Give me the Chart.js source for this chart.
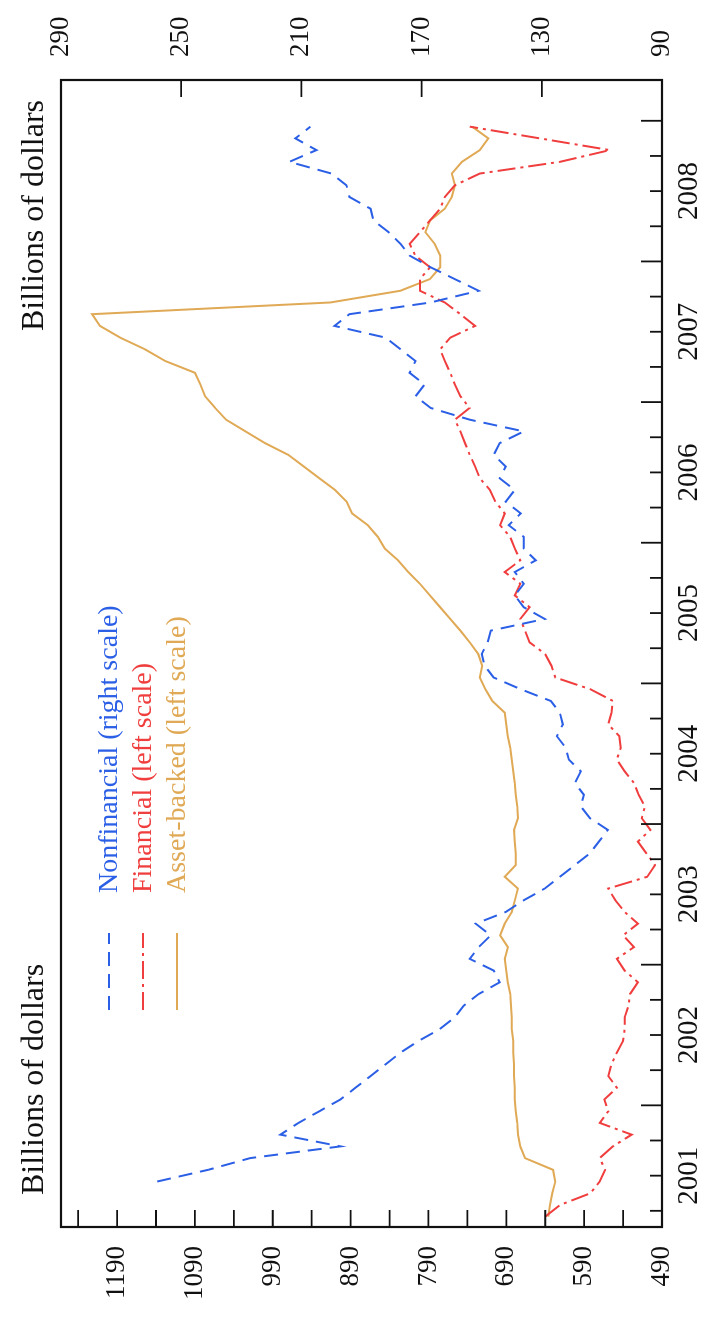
<!DOCTYPE html>
<html>
<head>
<meta charset="utf-8">
<script src="https://cdn.jsdelivr.net/npm/chart.js@4"></script>
<style>
    html, body { margin: 0; padding: 0; background: #fff; overflow: hidden; }
    /* the chart is drawn landscape, then turned a quarter turn to the left */
    #wrap {
        position: absolute; left: 0; top: 0;
        width: 1324px; height: 708px;
        transform-origin: 0 0;
        transform: translateY(1324px) rotate(-90deg);
    }
</style>
</head>
<body>
<div id="wrap"><canvas id="cpChart" width="1324" height="708"></canvas></div>
<script>
const months = [
    "2001-03", "2001-04", "2001-05", "2001-06", "2001-07", "2001-08", "2001-09", "2001-10", "2001-11", "2001-12",
    "2002-01", "2002-02", "2002-03", "2002-04", "2002-05", "2002-06", "2002-07", "2002-08", "2002-09", "2002-10", "2002-11", "2002-12",
    "2003-01", "2003-02", "2003-03", "2003-04", "2003-05", "2003-06", "2003-07", "2003-08", "2003-09", "2003-10", "2003-11", "2003-12",
    "2004-01", "2004-02", "2004-03", "2004-04", "2004-05", "2004-06", "2004-07", "2004-08", "2004-09", "2004-10", "2004-11", "2004-12",
    "2005-01", "2005-02", "2005-03", "2005-04", "2005-05", "2005-06", "2005-07", "2005-08", "2005-09", "2005-10", "2005-11", "2005-12",
    "2006-01", "2006-02", "2006-03", "2006-04", "2006-05", "2006-06", "2006-07", "2006-08", "2006-09", "2006-10", "2006-11", "2006-12",
    "2007-01", "2007-02", "2007-03", "2007-04", "2007-05", "2007-06", "2007-07", "2007-08", "2007-09", "2007-10", "2007-11", "2007-12",
    "2008-01", "2008-02", "2008-03", "2008-04", "2008-05", "2008-06", "2008-07", "2008-08", "2008-09", "2008-10", "2008-11", "2008-12"
];

// Billions of dollars, right scale (series starts in June 2001)
const nonfinancial = [
    null, null, null, 258, 241, 227, 197, 217, 211, 204,
    197, 192, 187, 182, 177, 171, 164, 159, 156, 151, 144, 146,
    154, 151, 147, 152, 142, 136, 129, 124, 119, 114, 111, 108,
    114, 117, 116, 119, 117, 121, 122, 125, 123, 124, 127, 137,
    146, 149, 150, 148, 147, 129, 136, 139, 136, 139, 132, 136,
    136, 141, 137, 142, 139, 144, 142, 146, 144, 136, 154, 167,
    172, 169, 174, 172, 177, 182, 199, 194, 167, 151, 159, 167,
    174, 177, 181, 186, 187, 194, 195, 200, 214, 205, 212, 207
];

// Billions of dollars, left scale
const financial = [
    640, 621, 582, 570, 563, 570, 553, 529, 570, 559,
    564, 548, 559, 555, 548, 540, 538, 538, 533, 531, 521, 538,
    548, 526, 540, 521, 538, 550, 559, 509, 499, 510, 521, 505,
    516, 512, 520, 526, 538, 548, 543, 545, 559, 555, 553, 582,
    627, 632, 640, 660, 666, 672, 660, 679, 672, 692, 672, 679,
    685, 698, 692, 704, 711, 724, 730, 737, 743, 749, 756, 737,
    749, 756, 762, 769, 775, 762, 730, 749, 769, 801, 801, 788,
    807, 814, 801, 788, 775, 769, 756, 724, 621, 557, 647, 737
];

// Billions of dollars, left scale
const assetBacked = [
    636, 634, 631, 627, 630, 666, 672, 675, 676, 678,
    679, 679, 680, 680, 681, 681, 683, 683, 684, 685, 688, 690,
    692, 688, 698, 692, 683, 679, 675, 692, 678, 678, 679, 680,
    675, 676, 678, 679, 681, 683, 685, 688, 690, 692, 708, 717,
    724, 721, 726, 737, 749, 762, 775, 788, 801, 816, 829, 846,
    855, 868, 888, 895, 910, 930, 950, 970, 1000, 1025, 1050, 1064,
    1077, 1083, 1090, 1128, 1154, 1186, 1212, 1222, 916, 826, 788, 775,
    775, 782, 794, 788, 769, 760, 756, 760, 747, 724, 713, 734
];

const leftTicks = [490, 540, 590, 640, 690, 740, 790, 840, 890, 940, 990, 1040, 1090, 1140, 1190, 1240];
const rightTicks = [90, 130, 170, 210, 250, 290];
const years = [2001, 2002, 2003, 2004, 2005, 2006, 2007, 2008];
const axisTitle = "Billions of dollars";

const BLUE = "#2b5fe6";
const RED = "#f03d3d";
const GOLD = "#e0a955";
const FONT = "'Liberation Serif', 'Times New Roman', serif";

function monthToYear(m) {
    return Number(m.slice(0, 4)) + (Number(m.slice(5, 7)) - 0.5) / 12;
}

function toPoints(values) {
    return values.map((v, i) => ({ x: monthToYear(months[i]), y: v }));
}

// quarter ticks on the date axis; the year label sits on the mid-year tick
const dateTicks = [];
years.forEach(y => { [0.25, 0.5, 0.75, 1].forEach(q => dateTicks.push(y + q)); });

const seriesStyles = [
    { label: "Nonfinancial (right scale)", color: BLUE, dash: [14, 8] },
    { label: "Financial (left scale)", color: RED, dash: [18, 5, 3, 5] },
    { label: "Asset-backed (left scale)", color: GOLD, dash: [] }
];

const decorPlugin = {
    id: "decor",
    afterDraw(chart) {
        const { ctx, chartArea: a, scales } = chart;
        ctx.save();
        ctx.strokeStyle = "#111";

        ctx.lineWidth = 1.8;
        ctx.beginPath();
        scales.yLeft.ticks.forEach(t => {
            const y = scales.yLeft.getPixelForValue(t.value);
            ctx.moveTo(a.left, y);
            ctx.lineTo(a.left + 17, y);
        });
        scales.yRight.ticks.forEach(t => {
            const y = scales.yRight.getPixelForValue(t.value);
            ctx.moveTo(a.right, y);
            ctx.lineTo(a.right - 17, y);
        });
        scales.x.ticks.forEach(t => {
            const x = scales.x.getPixelForValue(t.value);
            const major = Math.abs(t.value - Math.round(t.value)) < 1e-6;
            ctx.moveTo(x, a.bottom);
            ctx.lineTo(x, a.bottom - (major ? 21 : 12));
        });
        ctx.stroke();

        ctx.lineWidth = 2.2;
        ctx.strokeRect(a.left, a.top, a.right - a.left, a.bottom - a.top);

        ctx.fillStyle = "#111";
        ctx.font = "32px " + FONT;
        ctx.textBaseline = "alphabetic";
        ctx.textAlign = "left";
        ctx.fillText(axisTitle, 129, 43);
        ctx.textAlign = "right";
        ctx.fillText(axisTitle, 1224, 43);

        // legend
        const rowsY = [109, 143, 177];
        ctx.font = "28px " + FONT;
        ctx.textAlign = "left";
        ctx.textBaseline = "middle";
        seriesStyles.forEach((s, i) => {
            ctx.strokeStyle = s.color;
            ctx.lineWidth = 2;
            ctx.setLineDash(s.dash);
            ctx.beginPath();
            ctx.moveTo(314, rowsY[i]);
            ctx.lineTo(391, rowsY[i]);
            ctx.stroke();
            ctx.setLineDash([]);
            ctx.fillStyle = s.color;
            ctx.fillText(s.label, 431, rowsY[i] + 1);
        });
        ctx.restore();
    }
};

new Chart(document.getElementById("cpChart"), {
    type: "line",
    data: {
        datasets: [
            {
                label: seriesStyles[0].label,
                data: toPoints(nonfinancial),
                yAxisID: "yRight",
                borderColor: BLUE,
                borderWidth: 2,
                borderDash: seriesStyles[0].dash,
                pointRadius: 0,
                tension: 0
            },
            {
                label: seriesStyles[1].label,
                data: toPoints(financial),
                yAxisID: "yLeft",
                borderColor: RED,
                borderWidth: 2,
                borderDash: seriesStyles[1].dash,
                pointRadius: 0,
                tension: 0
            },
            {
                label: seriesStyles[2].label,
                data: toPoints(assetBacked),
                yAxisID: "yLeft",
                borderColor: GOLD,
                borderWidth: 2,
                pointRadius: 0,
                tension: 0
            }
        ]
    },
    options: {
        responsive: false,
        devicePixelRatio: 1,
        animation: false,
        layout: { padding: { top: 61 } },
        plugins: {
            legend: { display: false },
            tooltip: { enabled: false }
        },
        scales: {
            x: {
                type: "linear",
                position: "bottom",
                min: 2001.135,
                max: 2009.29,
                grid: { display: false, drawTicks: false },
                border: { display: false },
                afterBuildTicks: s => { s.ticks = dateTicks.map(v => ({ value: v })); },
                afterFit: s => { s.height = 46; },
                ticks: {
                    autoSkip: false,
                    maxRotation: 0,
                    padding: 10,
                    color: "#111",
                    font: { family: FONT, size: 29 },
                    callback: v => Math.abs(v - Math.floor(v) - 0.5) < 1e-6 ? String(Math.floor(v)) : ""
                }
            },
            yLeft: {
                type: "linear",
                position: "left",
                min: 490,
                max: 1262,
                grid: { display: false, drawTicks: false },
                border: { display: false },
                afterBuildTicks: s => { s.ticks = leftTicks.map(v => ({ value: v })); },
                afterFit: s => { s.width = 97; },
                ticks: {
                    autoSkip: false,
                    padding: 19,
                    color: "#111",
                    font: { family: FONT, size: 27 },
                    callback: v => (v - 490) % 100 === 0 ? String(v) : ""
                }
            },
            yRight: {
                type: "linear",
                position: "right",
                min: 90,
                max: 290,
                grid: { display: false, drawTicks: false },
                border: { display: false },
                afterBuildTicks: s => { s.ticks = rightTicks.map(v => ({ value: v })); },
                afterFit: s => { s.width = 80; },
                ticks: {
                    autoSkip: false,
                    padding: 23,
                    color: "#111",
                    font: { family: FONT, size: 27 }
                }
            }
        }
    },
    plugins: [decorPlugin]
});
</script>
</body>
</html>
